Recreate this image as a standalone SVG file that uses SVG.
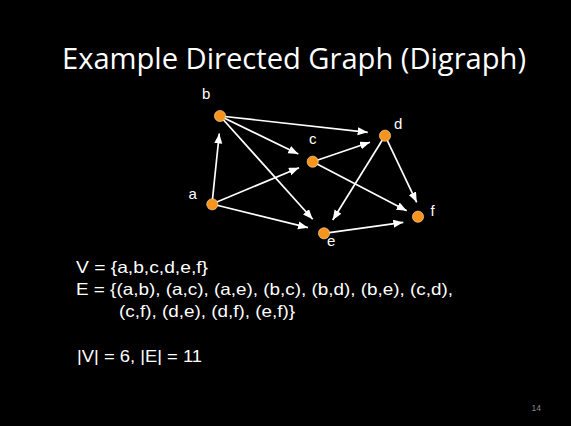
<svg xmlns="http://www.w3.org/2000/svg" width="571" height="426" viewBox="0 0 571 426">
<style>
.title{font-family:"Open Sans","Liberation Sans",sans-serif;font-size:30px;fill:#ffffff}
.body{font-family:"Liberation Sans",Arial,sans-serif;font-size:16.5px;fill:#ffffff}
.lbl{font-family:"Liberation Sans",Arial,sans-serif;font-size:15px;fill:#ffffff}
.node{fill:#F7941D;stroke:#ffe0b0;stroke-width:0.6}
.edge{stroke:#ffffff;stroke-width:1.7;fill:none;marker-end:url(#arr)}
.pg{font-family:"Liberation Sans",Arial,sans-serif;font-size:8.5px;fill:#8a8a8a}
</style>
<defs>
<marker id="arr" markerUnits="userSpaceOnUse" markerWidth="11" markerHeight="9" refX="10" refY="4" orient="auto">
<path d="M0,0 L10,4 L0,8 z" fill="#ffffff"/>
</marker>
</defs>
<rect x="0" y="0" width="571" height="426" fill="#000000"/>
<text class="title" x="62" y="69" textLength="464" lengthAdjust="spacingAndGlyphs">Example Directed Graph (Digraph)</text>
<g id="edges">
<line class="edge" x1="212" y1="204" x2="219.3" y2="133.5"/>
<line class="edge" x1="212" y1="204" x2="299" y2="167.7"/>
<line class="edge" x1="212" y1="204" x2="308" y2="227.7"/>
<line class="edge" x1="220" y1="116" x2="298.3" y2="154"/>
<line class="edge" x1="220" y1="116" x2="367.7" y2="132.3"/>
<line class="edge" x1="220" y1="116" x2="312.7" y2="219.3"/>
<line class="edge" x1="312.7" y1="161.7" x2="370" y2="142.3"/>
<line class="edge" x1="312.7" y1="161.7" x2="406.7" y2="210.7"/>
<line class="edge" x1="385" y1="135.7" x2="332.7" y2="220"/>
<line class="edge" x1="385" y1="135.7" x2="416.7" y2="202.3"/>
<line class="edge" x1="324" y1="233.3" x2="403.3" y2="222.3"/>
</g>
<g id="a"><circle class="node" cx="212.3" cy="204.3" r="5.6"/><text class="lbl" x="188.5" y="199">a</text></g>
<g id="b"><circle class="node" cx="220" cy="116" r="5.6"/><text class="lbl" x="202" y="99">b</text></g>
<g id="c"><circle class="node" cx="312.7" cy="161.7" r="5.6"/><text class="lbl" x="309" y="144">c</text></g>
<g id="d"><circle class="node" cx="385" cy="135.7" r="5.6"/><text class="lbl" x="394" y="129">d</text></g>
<g id="e"><circle class="node" cx="324" cy="233.3" r="5.6"/><text class="lbl" x="327" y="245.5">e</text></g>
<g id="f"><circle class="node" cx="418" cy="216.7" r="5.6"/><text class="lbl" x="430.5" y="216">f</text></g>
<text class="body" x="76" y="272.5" textLength="132" lengthAdjust="spacingAndGlyphs">V = {a,b,c,d,e,f}</text>
<text class="body" x="76" y="294.5" textLength="377" lengthAdjust="spacingAndGlyphs">E = {(a,b), (a,c), (a,e), (b,c), (b,d), (b,e), (c,d),</text>
<text class="body" x="119" y="316.5" textLength="176" lengthAdjust="spacingAndGlyphs">(c,f), (d,e), (d,f), (e,f)}</text>
<text class="body" x="77" y="362" textLength="125" lengthAdjust="spacingAndGlyphs">|V| = 6, |E| = 11</text>
<text class="pg" x="531.5" y="411">14</text>
</svg>
